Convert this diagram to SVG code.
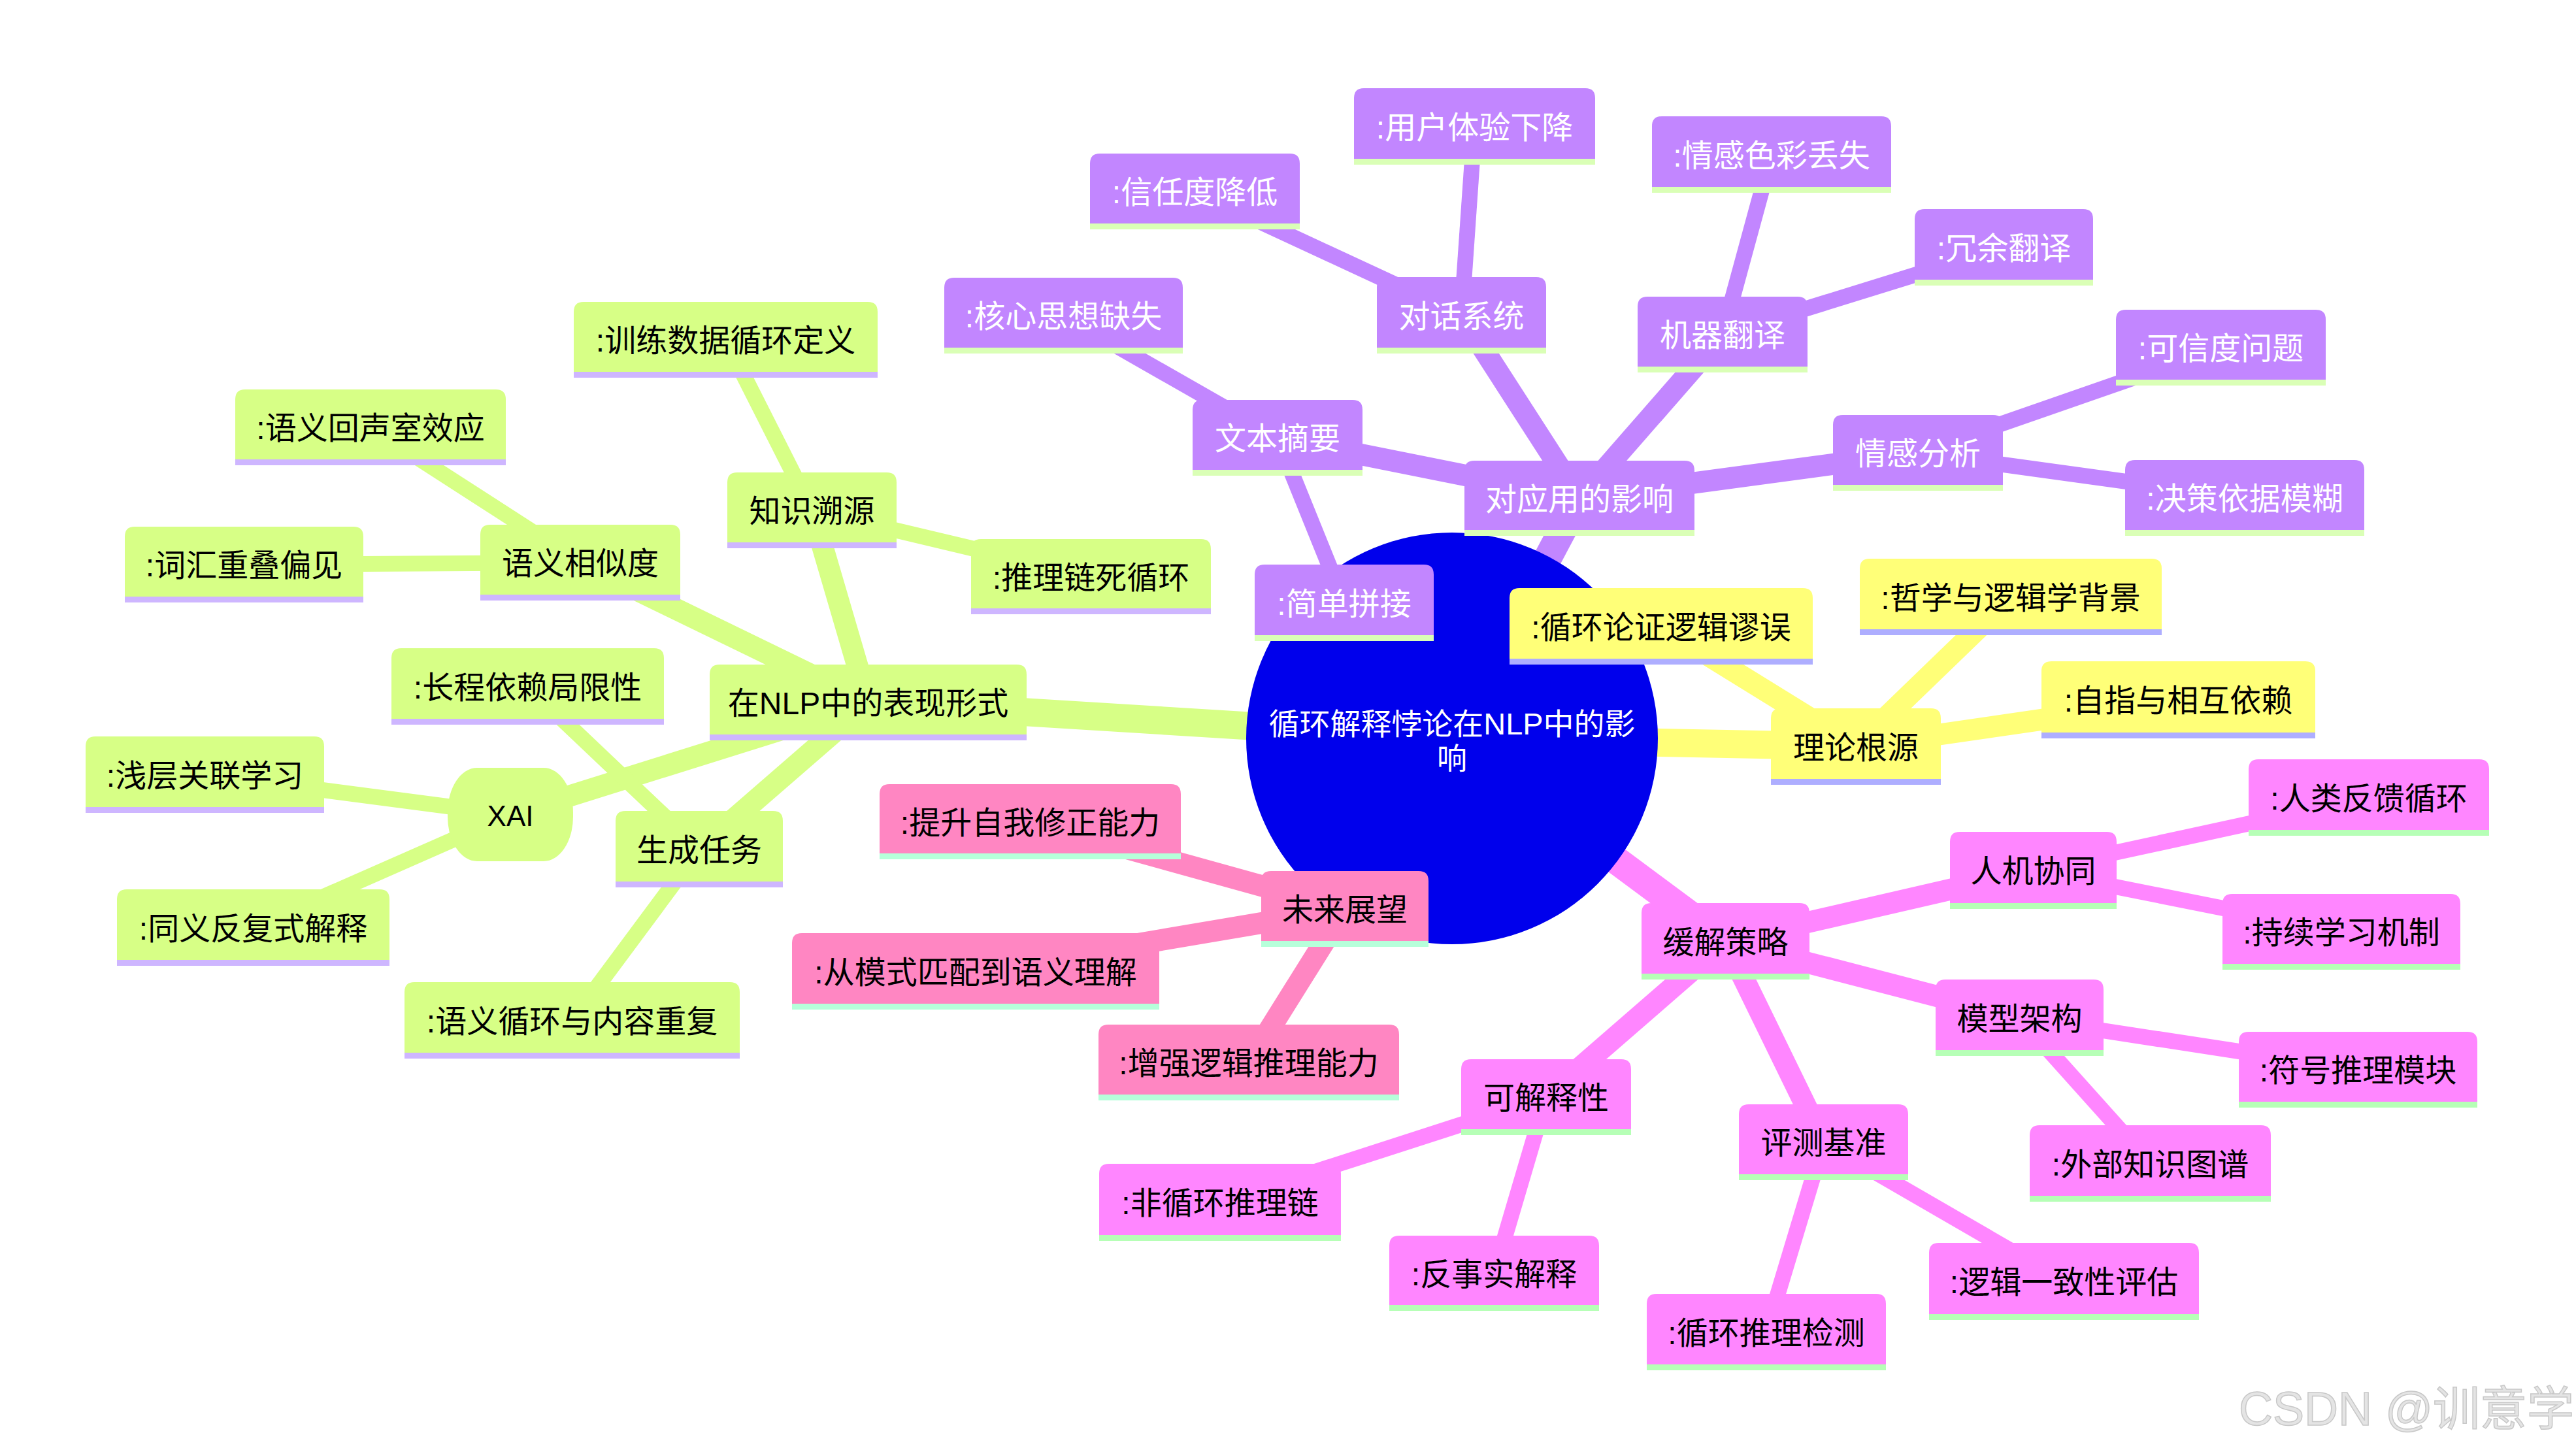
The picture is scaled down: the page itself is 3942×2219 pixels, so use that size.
<svg xmlns="http://www.w3.org/2000/svg" width="3942" height="2219" viewBox="0 0 3942 2219">
<defs>
<style>
.t{font-family:"Liberation Sans","Noto Sans CJK SC",sans-serif;font-size:48px;text-anchor:middle;fill:#000}
.e0{stroke-width:43;fill:none}
.e1{stroke-width:33;fill:none}
.e2{stroke-width:24;fill:none}
.ey{stroke:#ffff78}.eg{stroke:#d7ff86}.ep{stroke:#c286ff}.em{stroke:#ff86ff}.ek{stroke:#ff86c2}
.sy path{fill:#ffff78}.sy line{stroke:#aeaeff;stroke-width:9}
.sg path,.sg rect{fill:#d7ff86}.sg line{stroke:#ceb6ff;stroke-width:9}
.sp path{fill:#c286ff}.sp line{stroke:#daffb6;stroke-width:9}.sp text{fill:#fff}
.sm path{fill:#ff86ff}.sm line{stroke:#b6ffb6;stroke-width:9}
.sk path{fill:#ff86c2}.sk line{stroke:#b6ffda;stroke-width:9}
</style>
</defs>
<rect width="3942" height="2219" fill="#fff"/>
<g id="edges">
<line class="e0 ep" x1="2222" y1="1130" x2="2417" y2="762.5"/>
<line class="e0 ey" x1="2222" y1="1130" x2="2840" y2="1142.5"/>
<line class="e0 ek" x1="2222" y1="1130" x2="2058" y2="1391"/>
<line class="e0 em" x1="2222" y1="1130" x2="2640.5" y2="1440.5"/>
<line class="e0 eg" x1="2222" y1="1130" x2="1328.5" y2="1075"/>
<line class="e1 ep" x1="2417" y1="762.5" x2="1955" y2="670"/>
<line class="e1 ep" x1="2417" y1="762.5" x2="2236.5" y2="482.5"/>
<line class="e1 ep" x1="2417" y1="762.5" x2="2636" y2="512"/>
<line class="e1 ep" x1="2417" y1="762.5" x2="2935" y2="693"/>
<line class="e1 ey" x1="2840" y1="1142.5" x2="2542" y2="958.5"/>
<line class="e1 ey" x1="2840" y1="1142.5" x2="3077" y2="913.5"/>
<line class="e1 ey" x1="2840" y1="1142.5" x2="3333.5" y2="1071"/>
<line class="e1 ek" x1="2058" y1="1391" x2="1576.5" y2="1257.5"/>
<line class="e1 ek" x1="2058" y1="1391" x2="1493" y2="1486.5"/>
<line class="e1 ek" x1="2058" y1="1391" x2="1911" y2="1626"/>
<line class="e1 em" x1="2640.5" y1="1440.5" x2="3111.5" y2="1332"/>
<line class="e1 em" x1="2640.5" y1="1440.5" x2="3090.5" y2="1557.5"/>
<line class="e1 em" x1="2640.5" y1="1440.5" x2="2790.5" y2="1748"/>
<line class="e1 em" x1="2640.5" y1="1440.5" x2="2366" y2="1679"/>
<line class="e1 eg" x1="1328.5" y1="1075" x2="1242.5" y2="781"/>
<line class="e1 eg" x1="1328.5" y1="1075" x2="888" y2="861"/>
<line class="e1 eg" x1="1328.5" y1="1075" x2="1070" y2="1299.5"/>
<line class="e1 eg" x1="1328.5" y1="1075" x2="781" y2="1246.5"/>
<line class="e2 ep" x1="1955" y1="670" x2="1627.5" y2="483"/>
<line class="e2 ep" x1="1955" y1="670" x2="2057" y2="922.5"/>
<line class="e2 ep" x1="2236.5" y1="482.5" x2="1828.5" y2="293"/>
<line class="e2 ep" x1="2236.5" y1="482.5" x2="2256.5" y2="193.5"/>
<line class="e2 ep" x1="2636" y1="512" x2="2711" y2="236.5"/>
<line class="e2 ep" x1="2636" y1="512" x2="3066.5" y2="378.5"/>
<line class="e2 ep" x1="2935" y1="693" x2="3398.5" y2="532"/>
<line class="e2 ep" x1="2935" y1="693" x2="3435" y2="762"/>
<line class="e2 em" x1="3111.5" y1="1332" x2="3625" y2="1220.5"/>
<line class="e2 em" x1="3111.5" y1="1332" x2="3583" y2="1426"/>
<line class="e2 em" x1="3090.5" y1="1557.5" x2="3608.5" y2="1637"/>
<line class="e2 em" x1="3090.5" y1="1557.5" x2="3290.5" y2="1780.5"/>
<line class="e2 em" x1="2790.5" y1="1748" x2="3158.5" y2="1961"/>
<line class="e2 em" x1="2790.5" y1="1748" x2="2703" y2="2038.5"/>
<line class="e2 em" x1="2366" y1="1679" x2="1867" y2="1840"/>
<line class="e2 em" x1="2366" y1="1679" x2="2286.5" y2="1948.5"/>
<line class="e2 eg" x1="1242.5" y1="781" x2="1110.5" y2="520"/>
<line class="e2 eg" x1="1242.5" y1="781" x2="1669.5" y2="882.5"/>
<line class="e2 eg" x1="888" y1="861" x2="567" y2="654"/>
<line class="e2 eg" x1="888" y1="861" x2="373.5" y2="864"/>
<line class="e2 eg" x1="1070" y1="1299.5" x2="807.5" y2="1050.5"/>
<line class="e2 eg" x1="1070" y1="1299.5" x2="875.5" y2="1561.5"/>
<line class="e2 eg" x1="781" y1="1246.5" x2="313.5" y2="1185.5"/>
<line class="e2 eg" x1="781" y1="1246.5" x2="387.5" y2="1419.5"/>
</g>
<g id="root">
<circle cx="2222" cy="1130" r="315" fill="#0000ec"/>
<text class="t" x="2222" y="1124" style="font-size:46px;fill:#fff" textLength="561" lengthAdjust="spacingAndGlyphs">循环解释悖论在NLP中的影</text>
<text class="t" x="2222" y="1177" style="font-size:46px;fill:#fff">响</text>
</g>
<g id="n-p0" class="sp"><path d="M2241 815.5V720Q2241 705 2256 705H2578Q2593 705 2593 720V815.5Z"/><line x1="2241" y1="815.5" x2="2593" y2="815.5"/><text class="t" x="2417" y="780.5">对应用的影响</text></g>
<g id="n-p1" class="sp"><path d="M1825 723.5V627Q1825 612 1840 612H2070Q2085 612 2085 627V723.5Z"/><line x1="1825" y1="723.5" x2="2085" y2="723.5"/><text class="t" x="1955" y="688">文本摘要</text></g>
<g id="n-p2" class="sp"><path d="M1445 536.5V440Q1445 425 1460 425H1795Q1810 425 1810 440V536.5Z"/><line x1="1445" y1="536.5" x2="1810" y2="536.5"/><text class="t" x="1627.5" y="501">:核心思想缺失</text></g>
<g id="n-p3" class="sp"><path d="M1920 976.5V879Q1920 864 1935 864H2179Q2194 864 2194 879V976.5Z"/><line x1="1920" y1="976.5" x2="2194" y2="976.5"/><text class="t" x="2057" y="940.5">:简单拼接</text></g>
<g id="n-p4" class="sp"><path d="M2107 536.5V439Q2107 424 2122 424H2351Q2366 424 2366 439V536.5Z"/><line x1="2107" y1="536.5" x2="2366" y2="536.5"/><text class="t" x="2236.5" y="500.5">对话系统</text></g>
<g id="n-p5" class="sp"><path d="M1668 346.5V250Q1668 235 1683 235H1974Q1989 235 1989 250V346.5Z"/><line x1="1668" y1="346.5" x2="1989" y2="346.5"/><text class="t" x="1828.5" y="311">:信任度降低</text></g>
<g id="n-p6" class="sp"><path d="M2072 247.5V150Q2072 135 2087 135H2426Q2441 135 2441 150V247.5Z"/><line x1="2072" y1="247.5" x2="2441" y2="247.5"/><text class="t" x="2256.5" y="211.5">:用户体验下降</text></g>
<g id="n-p7" class="sp"><path d="M2506 565.5V469Q2506 454 2521 454H2751Q2766 454 2766 469V565.5Z"/><line x1="2506" y1="565.5" x2="2766" y2="565.5"/><text class="t" x="2636" y="530">机器翻译</text></g>
<g id="n-p8" class="sp"><path d="M2528 290.5V193Q2528 178 2543 178H2879Q2894 178 2894 193V290.5Z"/><line x1="2528" y1="290.5" x2="2894" y2="290.5"/><text class="t" x="2711" y="254.5">:情感色彩丢失</text></g>
<g id="n-p9" class="sp"><path d="M2930 432.5V335Q2930 320 2945 320H3188Q3203 320 3203 335V432.5Z"/><line x1="2930" y1="432.5" x2="3203" y2="432.5"/><text class="t" x="3066.5" y="396.5">:冗余翻译</text></g>
<g id="n-p10" class="sp"><path d="M2805 746.5V650Q2805 635 2820 635H3050Q3065 635 3065 650V746.5Z"/><line x1="2805" y1="746.5" x2="3065" y2="746.5"/><text class="t" x="2935" y="711">情感分析</text></g>
<g id="n-p11" class="sp"><path d="M3238 585.5V489Q3238 474 3253 474H3544Q3559 474 3559 489V585.5Z"/><line x1="3238" y1="585.5" x2="3559" y2="585.5"/><text class="t" x="3398.5" y="550">:可信度问题</text></g>
<g id="n-p12" class="sp"><path d="M3252 815.5V719Q3252 704 3267 704H3603Q3618 704 3618 719V815.5Z"/><line x1="3252" y1="815.5" x2="3618" y2="815.5"/><text class="t" x="3435" y="780">:决策依据模糊</text></g>
<g id="n-y0" class="sy"><path d="M2710 1196.5V1099Q2710 1084 2725 1084H2955Q2970 1084 2970 1099V1196.5Z"/><line x1="2710" y1="1196.5" x2="2970" y2="1196.5"/><text class="t" x="2840" y="1160.5">理论根源</text></g>
<g id="n-y1" class="sy"><path d="M2310 1012.5V915Q2310 900 2325 900H2759Q2774 900 2774 915V1012.5Z"/><line x1="2310" y1="1012.5" x2="2774" y2="1012.5"/><text class="t" x="2542" y="976.5">:循环论证逻辑谬误</text></g>
<g id="n-y2" class="sy"><path d="M2846 967.5V870Q2846 855 2861 855H3293Q3308 855 3308 870V967.5Z"/><line x1="2846" y1="967.5" x2="3308" y2="967.5"/><text class="t" x="3077" y="931.5">:哲学与逻辑学背景</text></g>
<g id="n-y3" class="sy"><path d="M3124 1125.5V1027Q3124 1012 3139 1012H3528Q3543 1012 3543 1027V1125.5Z"/><line x1="3124" y1="1125.5" x2="3543" y2="1125.5"/><text class="t" x="3333.5" y="1089">:自指与相互依赖</text></g>
<g id="n-k0" class="sk"><path d="M1930 1444.5V1348Q1930 1333 1945 1333H2171Q2186 1333 2186 1348V1444.5Z"/><line x1="1930" y1="1444.5" x2="2186" y2="1444.5"/><text class="t" x="2058" y="1409">未来展望</text></g>
<g id="n-k1" class="sk"><path d="M1346 1310.5V1215Q1346 1200 1361 1200H1792Q1807 1200 1807 1215V1310.5Z"/><line x1="1346" y1="1310.5" x2="1807" y2="1310.5"/><text class="t" x="1576.5" y="1275.5">:提升自我修正能力</text></g>
<g id="n-k2" class="sk"><path d="M1212 1540.5V1443Q1212 1428 1227 1428H1759Q1774 1428 1774 1443V1540.5Z"/><line x1="1212" y1="1540.5" x2="1774" y2="1540.5"/><text class="t" x="1493" y="1504.5">:从模式匹配到语义理解</text></g>
<g id="n-k3" class="sk"><path d="M1681 1679.5V1583Q1681 1568 1696 1568H2126Q2141 1568 2141 1583V1679.5Z"/><line x1="1681" y1="1679.5" x2="2141" y2="1679.5"/><text class="t" x="1911" y="1644">:增强逻辑推理能力</text></g>
<g id="n-m0" class="sm"><path d="M2512 1494.5V1397Q2512 1382 2527 1382H2754Q2769 1382 2769 1397V1494.5Z"/><line x1="2512" y1="1494.5" x2="2769" y2="1494.5"/><text class="t" x="2640.5" y="1458.5">缓解策略</text></g>
<g id="n-m1" class="sm"><path d="M2984 1386.5V1288Q2984 1273 2999 1273H3224Q3239 1273 3239 1288V1386.5Z"/><line x1="2984" y1="1386.5" x2="3239" y2="1386.5"/><text class="t" x="3111.5" y="1350">人机协同</text></g>
<g id="n-m2" class="sm"><path d="M3441 1274.5V1177Q3441 1162 3456 1162H3794Q3809 1162 3809 1177V1274.5Z"/><line x1="3441" y1="1274.5" x2="3809" y2="1274.5"/><text class="t" x="3625" y="1238.5">:人类反馈循环</text></g>
<g id="n-m3" class="sm"><path d="M3401 1479.5V1383Q3401 1368 3416 1368H3750Q3765 1368 3765 1383V1479.5Z"/><line x1="3401" y1="1479.5" x2="3765" y2="1479.5"/><text class="t" x="3583" y="1444">:持续学习机制</text></g>
<g id="n-m4" class="sm"><path d="M2962 1611.5V1514Q2962 1499 2977 1499H3204Q3219 1499 3219 1514V1611.5Z"/><line x1="2962" y1="1611.5" x2="3219" y2="1611.5"/><text class="t" x="3090.5" y="1575.5">模型架构</text></g>
<g id="n-m5" class="sm"><path d="M3426 1690.5V1594Q3426 1579 3441 1579H3776Q3791 1579 3791 1594V1690.5Z"/><line x1="3426" y1="1690.5" x2="3791" y2="1690.5"/><text class="t" x="3608.5" y="1655">:符号推理模块</text></g>
<g id="n-m6" class="sm"><path d="M3106 1834.5V1737Q3106 1722 3121 1722H3460Q3475 1722 3475 1737V1834.5Z"/><line x1="3106" y1="1834.5" x2="3475" y2="1834.5"/><text class="t" x="3290.5" y="1798.5">:外部知识图谱</text></g>
<g id="n-m7" class="sm"><path d="M2661 1801.5V1705Q2661 1690 2676 1690H2905Q2920 1690 2920 1705V1801.5Z"/><line x1="2661" y1="1801.5" x2="2920" y2="1801.5"/><text class="t" x="2790.5" y="1766">评测基准</text></g>
<g id="n-m8" class="sm"><path d="M2952 2015.5V1917Q2952 1902 2967 1902H3350Q3365 1902 3365 1917V2015.5Z"/><line x1="2952" y1="2015.5" x2="3365" y2="2015.5"/><text class="t" x="3158.5" y="1979">:逻辑一致性评估</text></g>
<g id="n-m9" class="sm"><path d="M2520 2092.5V1995Q2520 1980 2535 1980H2871Q2886 1980 2886 1995V2092.5Z"/><line x1="2520" y1="2092.5" x2="2886" y2="2092.5"/><text class="t" x="2703" y="2056.5">:循环推理检测</text></g>
<g id="n-m10" class="sm"><path d="M2236 1732.5V1636Q2236 1621 2251 1621H2481Q2496 1621 2496 1636V1732.5Z"/><line x1="2236" y1="1732.5" x2="2496" y2="1732.5"/><text class="t" x="2366" y="1697">可解释性</text></g>
<g id="n-m11" class="sm"><path d="M1682 1894.5V1796Q1682 1781 1697 1781H2037Q2052 1781 2052 1796V1894.5Z"/><line x1="1682" y1="1894.5" x2="2052" y2="1894.5"/><text class="t" x="1867" y="1858">:非循环推理链</text></g>
<g id="n-m12" class="sm"><path d="M2126 2001.5V1906Q2126 1891 2141 1891H2432Q2447 1891 2447 1906V2001.5Z"/><line x1="2126" y1="2001.5" x2="2447" y2="2001.5"/><text class="t" x="2286.5" y="1966.5">:反事实解释</text></g>
<g id="n-g0" class="sg"><path d="M1086 1128.5V1032Q1086 1017 1101 1017H1556Q1571 1017 1571 1032V1128.5Z"/><line x1="1086" y1="1128.5" x2="1571" y2="1128.5"/><text class="t" x="1328.5" y="1093">在NLP中的表现形式</text></g>
<g id="n-g1" class="sg"><path d="M1113 834.5V738Q1113 723 1128 723H1357Q1372 723 1372 738V834.5Z"/><line x1="1113" y1="834.5" x2="1372" y2="834.5"/><text class="t" x="1242.5" y="799">知识溯源</text></g>
<g id="n-g2" class="sg"><path d="M878 573.5V477Q878 462 893 462H1328Q1343 462 1343 477V573.5Z"/><line x1="878" y1="573.5" x2="1343" y2="573.5"/><text class="t" x="1110.5" y="538">:训练数据循环定义</text></g>
<g id="n-g3" class="sg"><path d="M1486 935.5V840Q1486 825 1501 825H1838Q1853 825 1853 840V935.5Z"/><line x1="1486" y1="935.5" x2="1853" y2="935.5"/><text class="t" x="1669.5" y="900.5">:推理链死循环</text></g>
<g id="n-g4" class="sg"><path d="M735 914.5V818Q735 803 750 803H1026Q1041 803 1041 818V914.5Z"/><line x1="735" y1="914.5" x2="1041" y2="914.5"/><text class="t" x="888" y="879">语义相似度</text></g>
<g id="n-g5" class="sg"><path d="M360 707.5V611Q360 596 375 596H759Q774 596 774 611V707.5Z"/><line x1="360" y1="707.5" x2="774" y2="707.5"/><text class="t" x="567" y="672">:语义回声室效应</text></g>
<g id="n-g6" class="sg"><path d="M191 917.5V821Q191 806 206 806H541Q556 806 556 821V917.5Z"/><line x1="191" y1="917.5" x2="556" y2="917.5"/><text class="t" x="373.5" y="882">:词汇重叠偏见</text></g>
<g id="n-g7" class="sg"><path d="M942 1353.5V1256Q942 1241 957 1241H1183Q1198 1241 1198 1256V1353.5Z"/><line x1="942" y1="1353.5" x2="1198" y2="1353.5"/><text class="t" x="1070" y="1317.5">生成任务</text></g>
<g id="n-g8" class="sg"><path d="M599 1104.5V1007Q599 992 614 992H1001Q1016 992 1016 1007V1104.5Z"/><line x1="599" y1="1104.5" x2="1016" y2="1104.5"/><text class="t" x="807.5" y="1068.5">:长程依赖局限性</text></g>
<g id="n-g9" class="sg"><path d="M619 1615.5V1518Q619 1503 634 1503H1117Q1132 1503 1132 1518V1615.5Z"/><line x1="619" y1="1615.5" x2="1132" y2="1615.5"/><text class="t" x="875.5" y="1579.5">:语义循环与内容重复</text></g>
<g id="n-g10" class="sg"><rect x="685" y="1175" width="192" height="143" rx="45" ry="68"/><text class="t" x="781" y="1264" style="font-size:44px">XAI</text></g>
<g id="n-g11" class="sg"><path d="M131 1239.5V1142Q131 1127 146 1127H481Q496 1127 496 1142V1239.5Z"/><line x1="131" y1="1239.5" x2="496" y2="1239.5"/><text class="t" x="313.5" y="1203.5">:浅层关联学习</text></g>
<g id="n-g12" class="sg"><path d="M179 1473.5V1376Q179 1361 194 1361H581Q596 1361 596 1376V1473.5Z"/><line x1="179" y1="1473.5" x2="596" y2="1473.5"/><text class="t" x="387.5" y="1437.5">:同义反复式解释</text></g>
<g id="watermark">
<text x="3426" y="2181" style="font-family:'Liberation Sans','Noto Sans CJK SC',sans-serif;font-size:72px;fill:#e4e4e4;stroke:#c8c8c8;stroke-width:1.5">CSDN @训意学</text>
</g>
</svg>
